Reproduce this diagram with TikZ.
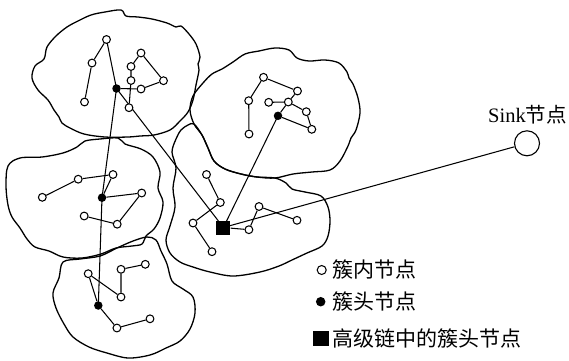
\documentclass[tikz,border=0pt]{standalone}
\usepackage{fontspec}
\setmainfont{Liberation Serif}
\newfontfamily\cjk{Noto Sans CJK SC}
\pgfdeclarelayer{bglayer}
\pgfdeclarelayer{linklayer}
\pgfsetlayers{bglayer,linklayer,main}
\begin{document}
\begin{tikzpicture}[x=1bp,y=-1bp,
  cloudline/.style={line width=1.3bp, line join=round},
  link/.style={line width=1.05bp},
  member/.style={circle, draw, fill=white, inner sep=0pt, minimum size=7.8bp, line width=1.05bp},
  head/.style={circle, fill=black, inner sep=0pt, minimum size=8.5bp},
  leader/.style={rectangle, fill=black, inner sep=0pt, minimum size=14bp},
  lab/.style={inner sep=0pt, font=\fontsize{21bp}{25bp}\selectfont}]
\begin{pgfonlayer}{bglayer}
\fill[white] (0,0) rectangle (569,360);
\useasboundingbox (0,0) rectangle (569,360);
% cluster outlines
\draw[cloudline] plot[smooth cycle, tension=0.55] coordinates {(91,15) (105,12) (121,10) (126,16) (138,17) (152,19) (167,23) (176,27) (181,26) (189,34) (196,44) (200,57) (198,64) (199,70) (196,85) (193,100) (188,112) (180,121) (170,130) (154,135) (140,136) (128,137) (105,137) (84,134) (70,128) (62,123) (59,117) (54,110) (48,100) (38,90) (32,78) (35,66) (44,59) (47,47) (56,36) (67,27) (78,21)};
\draw[cloudline] plot[smooth cycle, tension=0.55] coordinates {(203,83) (212,74) (222,69) (233,62) (245,54) (259,51) (275,48) (289,50) (297,58) (309,61) (325,60) (339,63) (347,72) (349,78) (353,84) (358,98) (360,113) (356,130) (351,138) (348,146) (340,161) (330,170) (312,172) (293,174) (275,178) (257,177) (241,174) (225,169) (214,161) (208,148) (202,135) (194,124) (190,110) (193,96)};
\draw[cloudline] plot[smooth cycle, tension=0.55] coordinates {(8,166) (20,158) (42,157) (63,153) (77,147) (85,141) (100,139) (118,138) (125,144) (141,149) (153,157) (160,172) (158,188) (163,202) (160,218) (154,229) (146,236) (142,244) (132,246) (116,248) (101,254) (82,258) (63,257) (49,251) (35,247) (27,239) (20,228) (12,217) (8,205) (6,186)};
\draw[cloudline] plot[smooth cycle, tension=0.55] coordinates {(63,262) (80,259) (100,256) (117,248) (133,241) (147,237) (156,240) (161,251) (167,264) (172,281) (183,289) (193,297) (195,313) (190,329) (180,341) (166,348) (150,355) (128,358) (107,353) (89,347) (73,337) (64,324) (56,308) (53,293) (59,278)};
\draw[cloudline] plot[smooth cycle, tension=0.55] coordinates {(188,125) (194,124) (202,135) (208,148) (214,161) (225,169) (241,174) (257,177) (275,178) (286,183) (292,189) (305,192) (321,196) (328,207) (330,221) (328,236) (322,246) (307,253) (292,260) (279,266) (260,272) (233,276) (210,272) (193,267) (180,262) (170,253) (166,240) (170,226) (175,207) (173,188) (176,168) (172,152) (176,139) (181,130)};
\end{pgfonlayer}

% cluster 1
\node[member] (a1) at (106.5,39.5) {};
\node[member] (a2) at (92,63) {};
\node[member] (a3) at (84.5,102) {};
\node[head] (h1) at (116.5,88.5) {};
\node[member] (b1) at (141,53) {};
\node[member] (b2) at (131,66.5) {};
\node[member] (b3) at (131,80.5) {};
\node[member] (b4) at (141,89) {};
\node[member] (b5) at (163.5,80.7) {};
\node[member] (b6) at (129,107.7) {};
% cluster 2
\node[member] (c1) at (263.5,77.3) {};
\node[member] (c2) at (297.5,91) {};
\node[member] (c3) at (248.7,100.7) {};
\node[member] (c4) at (268.7,102.3) {};
\node[member] (c5) at (288.3,102) {};
\node[member] (c6) at (306.3,111.7) {};
\node[member] (c7) at (311.8,129.3) {};
\node[member] (c8) at (249,134) {};
\node[head] (h2) at (278,115.8) {};
% cluster 3
\node[member] (d1) at (42.3,197.3) {};
\node[member] (d2) at (78.2,179.2) {};
\node[member] (d3) at (113,174.5) {};
\node[head] (h3) at (102,197.7) {};
\node[member] (d4) at (141.7,193) {};
\node[member] (d5) at (84.2,216) {};
\node[member] (d6) at (117.2,224.2) {};
% cluster 4
\node[member] (e1) at (88.2,273.7) {};
\node[member] (e2) at (121,269.3) {};
\node[member] (e3) at (145.3,264.3) {};
\node[member] (e4) at (121,297) {};
\node[head] (h4) at (98.3,305.5) {};
\node[member] (e5) at (116.9,328) {};
\node[member] (e6) at (150,318.8) {};
% cluster 5
\node[member] (f1) at (206.5,174.5) {};
\node[member] (f2) at (220.3,202.5) {};
\node[member] (f3) at (193,223) {};
\node[member] (f4) at (212,251.7) {};
\node[leader] (sq) at (223.4,227.5) {};
\node[member] (f5) at (248.9,229.7) {};
\node[member] (f6) at (259,206.5) {};
\node[member] (f7) at (297,220.3) {};
% sink
\node[circle, draw, fill=white, line width=1.1bp, inner sep=0pt, minimum size=25bp] (sink) at (527,143.3) {};
\node[lab, anchor=base, font=\fontsize{20.5bp}{24bp}\selectfont] (sinklab) at (527.5,122.5) {Sink{\cjk 节点}};

% links
\begin{pgfonlayer}{linklayer}
\draw[link] (a1) -- (a2) (a2) -- (a3) (b1) -- (b2) (b2) -- (b3) (b3) -- (b6)
  (h1) -- (b4) (b4) -- (b5) (b5) -- (b1);
\draw[link] (a1.center) -- (h1.center) -- (h3.center) -- (h4.center);
\draw[link] (h1.center) -- (sq.center);
\draw[link] (c1) -- (c2) (c1) -- (c3) (c3) -- (c8) (c4) -- (c5) (c5) -- (c2)
  (c5) -- (h2) (c5) -- (c6) (c6) -- (c7) (c7) -- (h2);
\draw[link] (h2.center) -- (sq.center);
\draw[link] (d1) -- (d2) (d2) -- (d3) (d3) -- (h3) (h3) -- (d4) (d4) -- (d6) (d6) -- (d5);
\draw[link] (e1) -- (h4) (e1) -- (e4) (e4) -- (e2) (e2) -- (e3) (h4) -- (e5) (e5) -- (e6);
\draw[link] (f1) -- (f2) (f2) -- (f3) (f3) -- (f4) (sq) -- (f5) (f5) -- (f6) (f6) -- (f7);
\draw[link] (sq.center) -- (sink);
\end{pgfonlayer}

% legend
\node[member, minimum size=9bp] (lg1) at (321.7,270) {};
\node[lab, anchor=west] (lt1) at (332,269.5) {\cjk 簇内节点};
\node[head, minimum size=9.5bp] (lg2) at (320.7,301.7) {};
\node[lab, anchor=west] (lt2) at (332,301.5) {\cjk 簇头节点};
\node[leader, minimum width=16bp, minimum height=15bp] (lg3) at (321,338.5) {};
\node[lab, anchor=west] (lt3) at (332,338.5) {\cjk 高级链中的簇头节点};
\end{tikzpicture}
\end{document}
